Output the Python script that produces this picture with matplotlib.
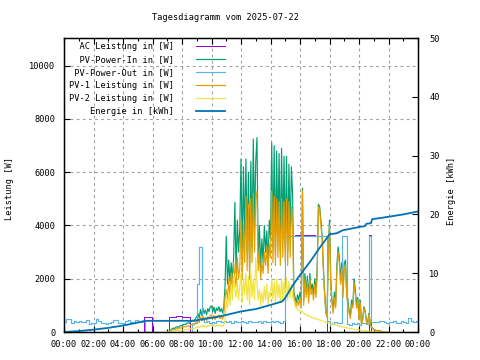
import numpy as np
import matplotlib.pyplot as plt
from matplotlib.ticker import MultipleLocator

plt.rcParams['font.family'] = 'DejaVu Sans Mono'
plt.rcParams['font.size'] = 6.2

# PV inputs, 5-minute samples from 07:00 to 22:00 (W)
pv_start = 7.0
pv_in = [
    0, 20, 60, 90, 120, 150, 130, 180, 200, 170, 220, 240,
    230, 270, 300, 280, 330, 350, 320, 380, 420, 450, 400, 520,
    560, 700, 520, 850, 620, 900, 700, 820, 650, 880, 760, 950,
    980, 760, 940, 700, 900, 800, 950, 760, 880, 720, 940, 1700,
    3600, 1800, 2700, 1900, 2600, 2000, 2800, 4870, 2200, 4200, 3000, 3850,
    6500, 2800, 6200, 3500, 6500, 3000, 6000, 2400, 6400, 3200, 7250, 4000,
    6400, 7300, 2600, 4000, 2400, 3500, 2600, 4000, 3000, 3800, 2500, 4200,
    3500, 7100, 3200, 7000, 3000, 6800, 3600, 6700, 3000, 6900, 3500, 6600,
    3200, 6600, 3000, 6300, 3500, 6200, 5100, 1500, 1300, 1100, 1400, 1200,
    1500, 1100, 5400, 1200, 2200, 1500, 2100, 1300, 2200, 1600, 1800, 1400,
    2000, 1500, 2400, 4800, 4700, 4200, 3600, 2500, 1500, 800, 600, 3000,
    4200, 2000, 1200, 800, 1500, 1000, 2500, 3200, 2800, 2000, 2600, 1500,
    2600, 2700, 1500, 1200, 800, 600, 1200, 1000, 2000, 1600, 1000, 1300,
    500, 1200, 300, 500, 950, 800, 450, 300, 700, 400, 190, 150,
    100, 80, 60, 50, 50, 40, 30, 20, 10, 0, 0, 0,
    0,
]
pv1 = [
    0, 10, 30, 50, 70, 90, 80, 110, 130, 110, 150, 160,
    150, 180, 200, 190, 220, 240, 210, 260, 290, 310, 280, 350,
    380, 480, 350, 560, 420, 600, 470, 550, 430, 580, 500, 620,
    640, 500, 620, 460, 600, 530, 640, 500, 580, 480, 640, 1300,
    1600, 1200, 2000, 1300, 2200, 1500, 2600, 2100, 1700, 2800, 2000, 2400,
    4200, 2000, 4000, 2600, 5100, 2300, 4800, 2000, 5000, 2600, 5200, 3000,
    5000, 5300, 2300, 3000, 2000, 2600, 2200, 3000, 2500, 3200, 2200, 3300,
    2800, 5300, 2600, 5100, 2500, 5000, 2800, 4900, 2500, 5000, 2800, 4900,
    2600, 5000, 2500, 4900, 2800, 4700, 4000, 1300, 1100, 900, 1200, 1000,
    1300, 900, 5300, 1000, 2000, 1300, 1900, 1100, 2000, 1400, 1600, 1200,
    1800, 1300, 2200, 4700, 4600, 4000, 3500, 2300, 1400, 700, 550, 2800,
    4000, 1800, 1100, 700, 1300, 900, 2300, 3000, 2600, 1800, 2400, 1300,
    2400, 2500, 1300, 1000, 700, 500, 1000, 900, 1850, 1400, 900, 1200,
    450, 1100, 270, 450, 900, 750, 400, 280, 650, 370, 170, 140,
    90, 70, 55, 45, 45, 35, 25, 15, 8, 0, 0, 0,
    0,
]
pv2 = [
    0, 5, 15, 25, 30, 40, 40, 50, 55, 50, 60, 70,
    70, 80, 90, 85, 100, 110, 100, 120, 130, 140, 130, 160,
    170, 200, 160, 230, 180, 250, 200, 240, 190, 250, 220, 260,
    260, 220, 250, 200, 240, 230, 270, 220, 250, 200, 280, 400,
    1200, 900, 1500, 1000, 1800, 1200, 2200, 1600, 1300, 1900, 1200, 1700,
    2200, 1100, 2000, 1400, 2200, 1200, 2100, 1000, 2300, 1300, 2000, 1200,
    2800, 1800, 1200, 1600, 1000, 1500, 1100, 1700, 1200, 1800, 1000, 1500,
    1300, 2000, 1200, 1900, 1100, 2000, 1300, 1800, 1100, 2000, 1200, 1900,
    1300, 2040, 1200, 1900, 1300, 1800, 1300, 1200, 1000, 950, 850, 800,
    800, 750, 780, 700, 680, 650, 600, 620, 580, 550, 540, 520,
    500, 510, 480, 470, 450, 440, 420, 400, 390, 370, 350, 340,
    330, 320, 300, 290, 280, 260, 250, 240, 230, 210, 200, 190,
    180, 170, 160, 150, 140, 130, 120, 110, 100, 100, 90, 80,
    80, 70, 60, 50, 50, 40, 30, 30, 20, 20, 10, 10,
    10, 5, 0, 0, 0, 0, 0, 0, 0, 0, 0, 0,
    0,
]

# PV-Power-Out, 10-minute samples from 00:00 to 24:00 (W)
pv_out = [
    390, 490, 480, 340, 400, 390,
    400, 380, 390, 450, 300, 350,
    320, 490, 420, 330, 350, 300,
    340, 360, 450, 460, 330, 340,
    330, 420, 440, 360, 330, 460,
    400, 380, 410, 0, 0, 0,
    0, 0, 0, 0, 0, 0,
    0, 0, 0, 0, 0, 0,
    0, 0, 0, 0, 300, 350,
    1800, 3200, 450, 380, 400, 350,
    380, 350, 400, 420, 360, 400,
    380, 420, 350, 400, 390, 360,
    400, 380, 340, 420, 360, 390,
    380, 400, 350, 420, 380, 360,
    400, 370, 420, 380, 350, 400,
    3600, 3600, 3600, 3600, 3600, 3600,
    3600, 3600, 3600, 3600, 3600, 3600,
    3600, 3600, 3600, 3600, 3600, 400,
    350, 300, 380, 320, 340, 3600,
    3600, 300, 280, 330, 300, 340,
    260, 320, 340, 300, 3600, 380,
    380, 360, 400, 420, 380, 340,
    380, 360, 400, 350, 340, 400,
    380, 350, 530, 400, 380, 420,
    400,
]

# AC output (W), step changes
ac_t = [0, 5.44, 5.94, 7.1, 7.6, 8.0, 8.55, 15.0, 15.65, 17.05, 17.8333,
        20.6667, 20.8333, 24]
ac_v = [0, 560, 0, 560, 610, 560, 0, 3600, 3650, 3600, 0, 3650, 0, 0]

# daily energy (kWh)
e_t = [0, 1, 2, 3, 4, 5, 5.5, 8.8, 9.2, 10, 11, 12, 13, 14, 14.8, 15.0,
       15.5, 16.0, 16.7, 17.3, 18.0, 18.5, 18.9, 19.5, 20.1, 20.4, 20.5,
       20.8, 20.9, 21.5, 22, 23, 24]
e_v = [0, 0.15, 0.4, 0.7, 1.1, 1.6, 1.9, 1.9, 2.1, 2.4, 2.9, 3.5, 3.9, 4.6,
       5.2, 5.8, 7.9, 9.7, 12.0, 14.2, 16.6, 16.8, 17.3, 17.6, 17.9, 18.0,
       18.4, 18.5, 19.2, 19.4, 19.6, 20.0, 20.5]

labels = ['AC Leistung in [W]', 'PV-Power-In in [W]', 'PV-Power-Out in [W]',
          'PV-1 Leistung in [W]', 'PV-2 Leistung in [W]', 'Energie in [kWh]']
colors = ['#9400d3', '#009e73', '#56b4e9', '#e69f00', '#f0e442', '#0072b2']
hours = list(range(0, 25, 2))
hour_labels = ['%02d:00' % (h % 24) for h in hours]

pv_t = pv_start + np.arange(len(pv_in)) / 12
out_t = np.arange(len(pv_out)) / 6

fig = plt.figure(figsize=(4.8, 3.6), dpi=100)
ax = fig.add_axes([64 / 480, 28 / 360, 354 / 480, 294 / 360])
ax2 = ax.twinx()

w = max(len(l) for l in labels)
lab = [l.rjust(w) for l in labels]
lw = 0.85
h = []
h += ax.plot(ac_t, ac_v, color=colors[0], lw=0.7, drawstyle='steps-post', label=lab[0])
h += ax.plot(pv_t, pv_in, color=colors[1], lw=lw, label=lab[1])
h += ax.plot(out_t, pv_out, color=colors[2], lw=lw, drawstyle='steps-post', label=lab[2])
h += ax.plot(pv_t, pv1, color=colors[3], lw=lw, label=lab[3])
h += ax.plot(pv_t, pv2, color=colors[4], lw=lw, label=lab[4])
h += ax2.plot(e_t, e_v, color=colors[5], lw=1.3, label=lab[5])

ax.set_xlim(0, 24)
ax.set_ylim(0, 11040)
ax2.set_ylim(0, 50)
ax.set_xticks(hours)
ax.set_xticklabels(hour_labels)
ax.xaxis.set_minor_locator(MultipleLocator(1))
ax.set_yticks(range(0, 11000, 2000))
ax2.set_yticks(range(0, 51, 10))

ax.grid(True, which='major', color='#a0a0a0', linestyle=(0, (2.5, 3)), lw=0.8)
ax.tick_params(which='both', direction='in', top=True, right=False, pad=6)
ax.tick_params(which='major', length=4, width=0.8)
ax.tick_params(which='minor', length=2.5, width=0.8)
ax2.tick_params(direction='in', length=4, width=0.8, pad=8)
for s in ax2.spines.values():
    s.set_linewidth(1.0)

fig.text(226 / 480, 1 - 18 / 360, 'Tagesdiagramm vom 2025-07-22', ha='center', va='center')
fig.text(10 / 480, 1 - 188 / 360, 'Leistung [W]', rotation=90, ha='center', va='center')
fig.text(452 / 480, 1 - 191 / 360, 'Energie [kWh]', rotation=90, ha='center', va='center')

ax2.legend(handles=h, loc='upper left', bbox_to_anchor=(0.014, 0.985), frameon=False,
           markerfirst=False, borderaxespad=0, borderpad=0, handlelength=3.3,
           handletextpad=2.6, labelspacing=0.45)

fig.savefig('out.png', dpi=100)
